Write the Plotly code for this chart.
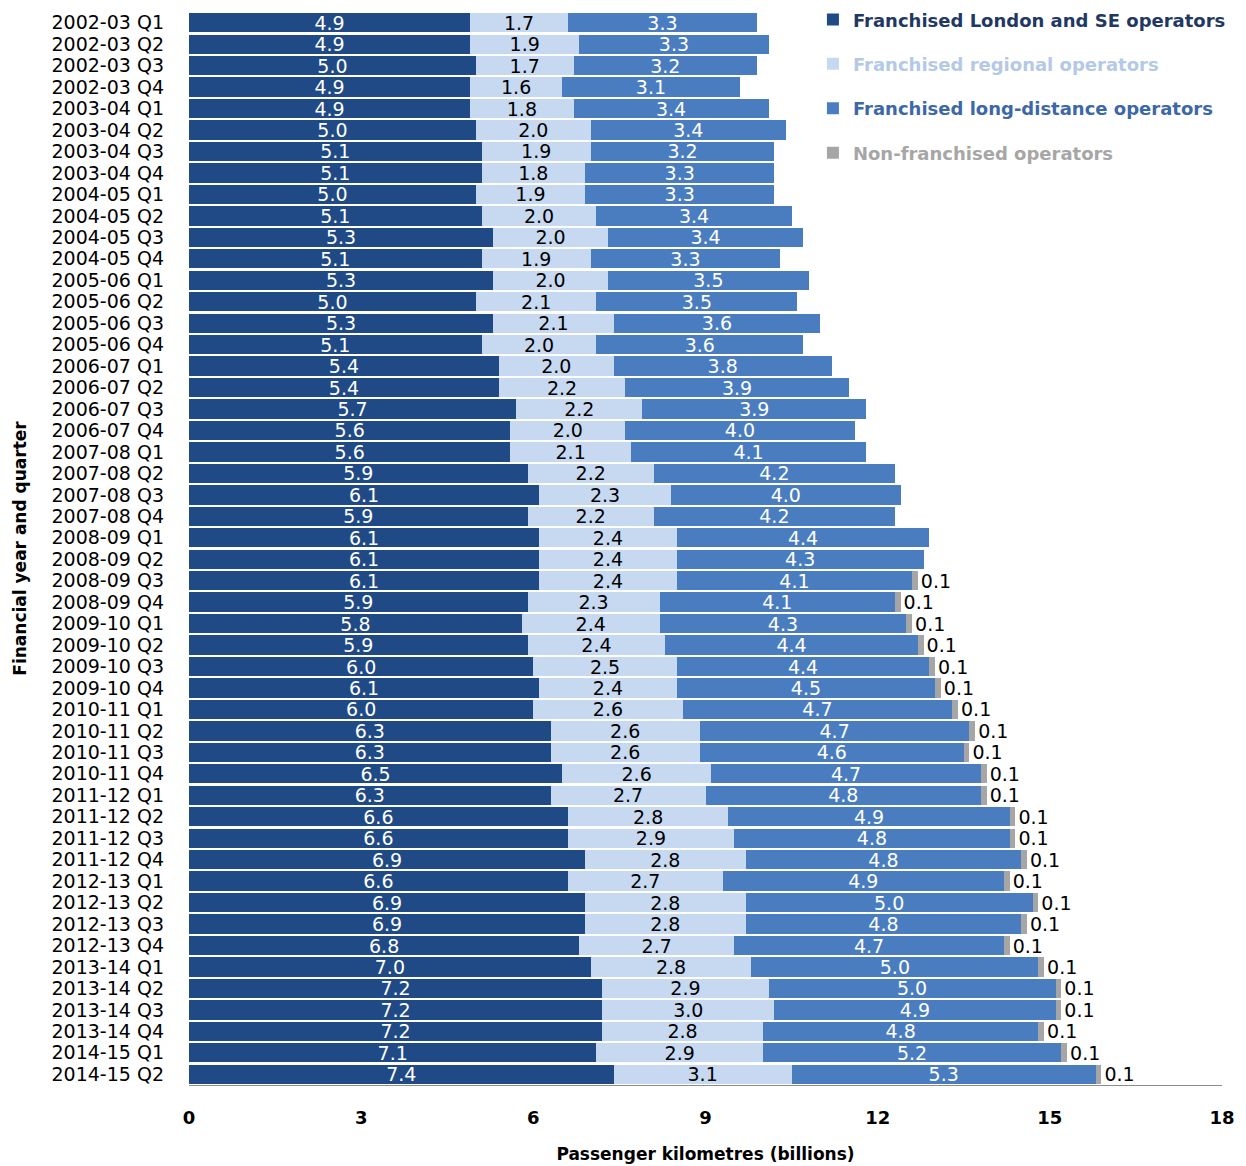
import plotly.graph_objects as go

# Financial year / quarter labels, top to bottom
quarters = [
    "2002-03 Q1", "2002-03 Q2", "2002-03 Q3", "2002-03 Q4",
    "2003-04 Q1", "2003-04 Q2", "2003-04 Q3", "2003-04 Q4",
    "2004-05 Q1", "2004-05 Q2", "2004-05 Q3", "2004-05 Q4",
    "2005-06 Q1", "2005-06 Q2", "2005-06 Q3", "2005-06 Q4",
    "2006-07 Q1", "2006-07 Q2", "2006-07 Q3", "2006-07 Q4",
    "2007-08 Q1", "2007-08 Q2", "2007-08 Q3", "2007-08 Q4",
    "2008-09 Q1", "2008-09 Q2", "2008-09 Q3", "2008-09 Q4",
    "2009-10 Q1", "2009-10 Q2", "2009-10 Q3", "2009-10 Q4",
    "2010-11 Q1", "2010-11 Q2", "2010-11 Q3", "2010-11 Q4",
    "2011-12 Q1", "2011-12 Q2", "2011-12 Q3", "2011-12 Q4",
    "2012-13 Q1", "2012-13 Q2", "2012-13 Q3", "2012-13 Q4",
    "2013-14 Q1", "2013-14 Q2", "2013-14 Q3", "2013-14 Q4",
    "2014-15 Q1", "2014-15 Q2",
]

# Passenger kilometres (billions) by operator group
london_se = [
    4.9, 4.9, 5.0, 4.9, 4.9, 5.0, 5.1, 5.1, 5.0, 5.1, 5.3, 5.1,
    5.3, 5.0, 5.3, 5.1, 5.4, 5.4, 5.7, 5.6, 5.6, 5.9, 6.1, 5.9,
    6.1, 6.1, 6.1, 5.9, 5.8, 5.9, 6.0, 6.1, 6.0, 6.3, 6.3, 6.5,
    6.3, 6.6, 6.6, 6.9, 6.6, 6.9, 6.9, 6.8, 7.0, 7.2, 7.2, 7.2,
    7.1, 7.4,
]
regional = [
    1.7, 1.9, 1.7, 1.6, 1.8, 2.0, 1.9, 1.8, 1.9, 2.0, 2.0, 1.9,
    2.0, 2.1, 2.1, 2.0, 2.0, 2.2, 2.2, 2.0, 2.1, 2.2, 2.3, 2.2,
    2.4, 2.4, 2.4, 2.3, 2.4, 2.4, 2.5, 2.4, 2.6, 2.6, 2.6, 2.6,
    2.7, 2.8, 2.9, 2.8, 2.7, 2.8, 2.8, 2.7, 2.8, 2.9, 3.0, 2.8,
    2.9, 3.1,
]
long_distance = [
    3.3, 3.3, 3.2, 3.1, 3.4, 3.4, 3.2, 3.3, 3.3, 3.4, 3.4, 3.3,
    3.5, 3.5, 3.6, 3.6, 3.8, 3.9, 3.9, 4.0, 4.1, 4.2, 4.0, 4.2,
    4.4, 4.3, 4.1, 4.1, 4.3, 4.4, 4.4, 4.5, 4.7, 4.7, 4.6, 4.7,
    4.8, 4.9, 4.8, 4.8, 4.9, 5.0, 4.8, 4.7, 5.0, 5.0, 4.9, 4.8,
    5.2, 5.3,
]
non_franchised = [None] * 26 + [0.1] * 24

x_ticks = [0, 3, 6, 9, 12, 15, 18]

FONT = "DejaVu Sans"
C_DARK = "#1F4A86"
C_LIGHT = "#C6D9F1"
C_MID = "#4A7DC0"
C_GREY = "#A6A6A6"

series = [
    ("Franchised London and SE operators", london_se, C_DARK, "white", "inside", "#1F3864"),
    ("Franchised regional operators", regional, C_LIGHT, "black", "inside", "#B4C9E6"),
    ("Franchised long-distance operators", long_distance, C_MID, "white", "inside", "#3C68A8"),
    ("Non-franchised operators", non_franchised, C_GREY, "black", "outside", "#A6A6A6"),
]

fig = go.Figure()
for i, (name, vals, col, tcol, tpos, lcol) in enumerate(series):
    fig.add_trace(go.Bar(
        y=quarters,
        x=vals,
        orientation="h",
        name=f"<span style='color:{lcol}'>{name}</span>",
        legendgroup=f"g{i}",
        marker=dict(color=col, line=dict(width=0)),
        texttemplate="%{x:.1f}",
        textposition=tpos,
        insidetextanchor="middle",
        textangle=0,
        constraintext="none",
        cliponaxis=False,
        textfont=dict(family=FONT, size=19, color=tcol),
    ))

fig.update_layout(
    width=1246,
    height=1166,
    barmode="stack",
    bargap=0.1,
    paper_bgcolor="white",
    plot_bgcolor="white",
    font=dict(family=FONT, color="black"),
    margin=dict(l=189, r=24, t=12, b=81, autoexpand=False),
    showlegend=True,
    legend=dict(
        x=0.604, y=1.010, xanchor="left", yanchor="top",
        bgcolor="rgba(0,0,0,0)",
        font=dict(family=FONT, size=18, weight="bold"),
        tracegroupgap=18,
        itemwidth=30,
        traceorder="grouped",
    ),
    xaxis=dict(
        range=[0, 18],
        tickvals=x_ticks,
        ticktext=[str(v) for v in x_ticks],
        showgrid=False,
        zeroline=False,
        showline=True,
        linecolor="#8C8C8C",
        linewidth=1,
        ticks="",
        ticklabelstandoff=16,
        tickfont=dict(family=FONT, size=18, weight="bold"),
        title=dict(text="Passenger kilometres (billions)",
                   font=dict(family=FONT, size=17, weight="bold"),
                   standoff=21),
    ),
    yaxis=dict(
        type="category",
        categoryorder="array",
        categoryarray=quarters,
        tickmode="array",
        tickvals=quarters,
        autorange="reversed",
        showgrid=False,
        zeroline=False,
        showline=False,
        ticks="",
        ticklabelstandoff=24,
        tickfont=dict(family=FONT, size=19),
        title=dict(text="Financial year and quarter",
                   font=dict(family=FONT, size=17, weight="bold"),
                   standoff=20),
    ),
)

fig.write_html("out.html")
